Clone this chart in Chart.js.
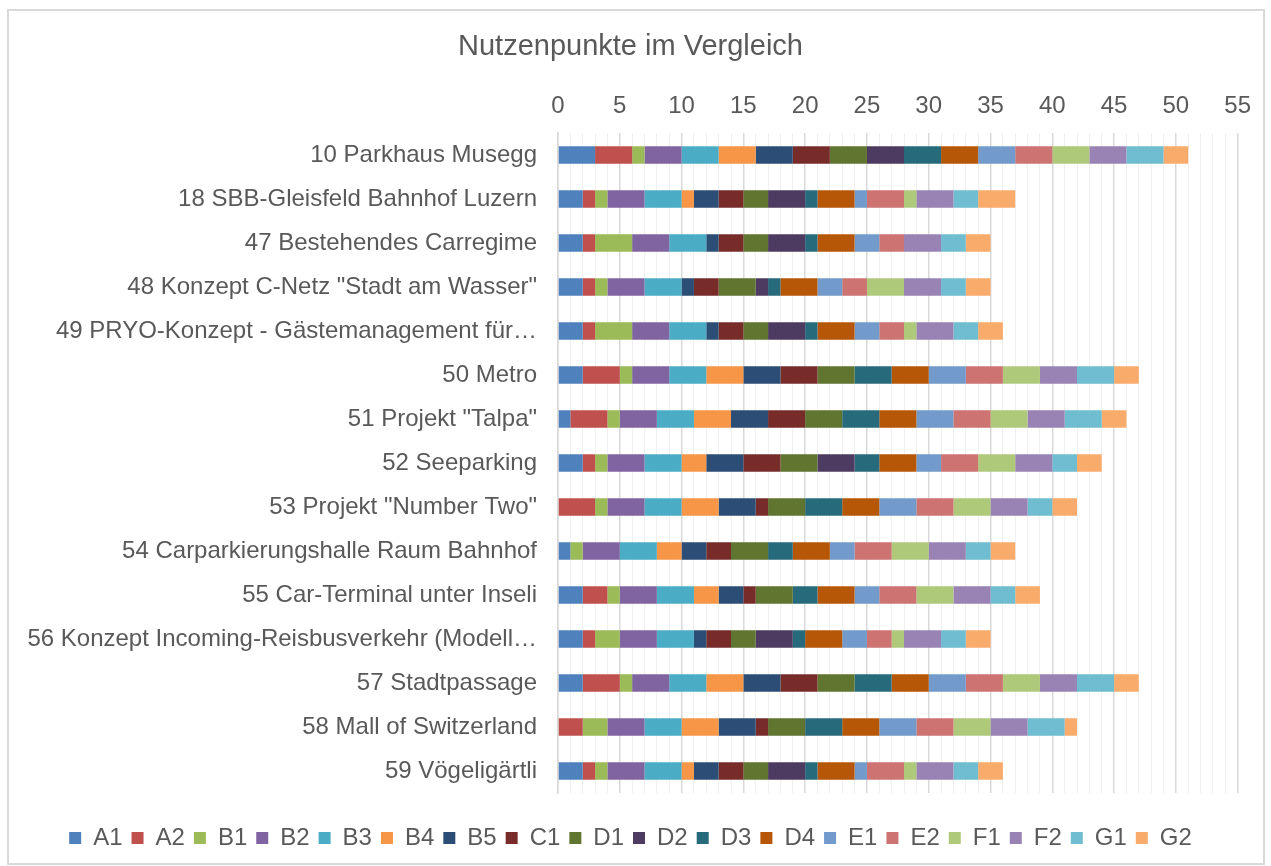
<!DOCTYPE html>
<html>
<head>
<meta charset="utf-8">
<script src="https://cdn.jsdelivr.net/npm/chart.js@4/dist/chart.umd.min.js"></script>
<style>
    body { margin: 0; background: #fff; }
    #wrap {
        position: absolute;
        left: 7px;
        top: 9px;
        width: 1258px;
        height: 856px;
        border: 2px solid #D9D9D9;
        box-sizing: border-box;
    }
</style>
</head>
<body>
<div id="wrap"><canvas id="nutzenChart"></canvas></div>
<script>
const projects = [
    '10 Parkhaus Musegg',
    '18 SBB-Gleisfeld Bahnhof Luzern',
    '47 Bestehendes Carregime',
    '48 Konzept C-Netz "Stadt am Wasser"',
    '49 PRYO-Konzept - Gästemanagement für…',
    '50 Metro',
    '51 Projekt "Talpa"',
    '52 Seeparking',
    '53 Projekt "Number Two"',
    '54 Carparkierungshalle Raum Bahnhof',
    '55 Car-Terminal unter Inseli',
    '56 Konzept Incoming-Reisbusverkehr (Modell…',
    '57 Stadtpassage',
    '58 Mall of Switzerland',
    '59 Vögeligärtli'
];

// one array per criterion, same order as projects
const A1 = [3, 2, 2, 2, 2, 2, 1, 2, 0, 1, 2, 2, 2, 0, 2];
const A2 = [3, 1, 1, 1, 1, 3, 3, 1, 3, 0, 2, 1, 3, 2, 1];
const B1 = [1, 1, 3, 1, 3, 1, 1, 1, 1, 1, 1, 2, 1, 2, 1];
const B2 = [3, 3, 3, 3, 3, 3, 3, 3, 3, 3, 3, 3, 3, 3, 3];
const B3 = [3, 3, 3, 3, 3, 3, 3, 3, 3, 3, 3, 3, 3, 3, 3];
const B4 = [3, 1, 0, 0, 0, 3, 3, 2, 3, 2, 2, 0, 3, 3, 1];
const B5 = [3, 2, 1, 1, 1, 3, 3, 3, 3, 2, 2, 1, 3, 3, 2];
const C1 = [3, 2, 2, 2, 2, 3, 3, 3, 1, 2, 1, 2, 3, 1, 2];
const D1 = [3, 2, 2, 3, 2, 3, 3, 3, 3, 3, 3, 2, 3, 3, 2];
const D2 = [3, 3, 3, 1, 3, 0, 0, 3, 0, 0, 0, 3, 0, 0, 3];
const D3 = [3, 1, 1, 1, 1, 3, 3, 2, 3, 2, 2, 1, 3, 3, 1];
const D4 = [3, 3, 3, 3, 3, 3, 3, 3, 3, 3, 3, 3, 3, 3, 3];
const E1 = [3, 1, 2, 2, 2, 3, 3, 2, 3, 2, 2, 2, 3, 3, 1];
const E2 = [3, 3, 2, 2, 2, 3, 3, 3, 3, 3, 3, 2, 3, 3, 3];
const F1 = [3, 1, 0, 3, 1, 3, 3, 3, 3, 3, 3, 1, 3, 3, 1];
const F2 = [3, 3, 3, 3, 3, 3, 3, 3, 3, 3, 3, 3, 3, 3, 3];
const G1 = [3, 2, 2, 2, 2, 3, 3, 2, 2, 2, 2, 2, 3, 3, 2];
const G2 = [2, 3, 2, 2, 2, 2, 2, 2, 2, 2, 2, 2, 2, 1, 2];

const criteria = ['A1', 'A2', 'B1', 'B2', 'B3', 'B4', 'B5', 'C1', 'D1', 'D2', 'D3', 'D4', 'E1', 'E2', 'F1', 'F2', 'G1', 'G2'];
const values = [A1, A2, B1, B2, B3, B4, B5, C1, D1, D2, D3, D4, E1, E2, F1, F2, G1, G2];
const colors = [
    '#4F81BD', '#C0504D', '#9BBB59', '#8064A2', '#4BACC6', '#F79646',
    '#2C4D75', '#772C2A', '#5F7530', '#4D3B62', '#276A7C', '#B65708',
    '#729ACA', '#CD7371', '#AFC97A', '#9983B5', '#6FBDD1', '#F9AB6B'
];

const xTicks = [0, 5, 10, 15, 20, 25, 30, 35, 40, 45, 50, 55];

const FONT = '"Liberation Sans", Arial, sans-serif';
const GREY = '#595959';

const ctx = document.getElementById('nutzenChart').getContext('2d');
const nutzenChart = new Chart(ctx, {
    type: 'bar',
    data: {
        labels: projects,
        datasets: criteria.map((c, i) => ({
            label: c,
            data: values[i],
            backgroundColor: colors[i],
            borderWidth: 0,
            barPercentage: 0.4,
            categoryPercentage: 1.0
        }))
    },
    options: {
        indexAxis: 'y',
        responsive: true,
        maintainAspectRatio: false,
        animation: false,
        layout: { padding: { top: 0, left: 14, right: 25, bottom: 3 } },
        plugins: {
            title: {
                display: true,
                text: 'Nutzenpunkte im Vergleich',
                color: GREY,
                font: { family: FONT, size: 29, weight: 'normal' },
                padding: { top: 19, bottom: 10 }
            },
            legend: {
                position: 'bottom',
                // empty title only adds space above the legend row
                title: { display: true, text: '', font: { size: 10 }, padding: { top: 12, bottom: 0 } },
                labels: {
                    color: GREY,
                    font: { family: FONT, size: 24 },
                    boxWidth: 12,
                    boxHeight: 12,
                    padding: 9
                }
            },
            tooltip: { enabled: false }
        },
        scales: {
            x: {
                position: 'top',
                stacked: true,
                min: 0,
                max: 55,
                afterFit: (scale) => { scale.height = 58.2; },
                ticks: {
                    stepSize: 1,
                    autoSkip: false,
                    maxRotation: 0,
                    padding: 12,
                    color: GREY,
                    font: { family: FONT, size: 24 },
                    callback: (v) => xTicks.includes(v) ? v : ''
                },
                grid: {
                    drawTicks: false,
                    color: (c) => xTicks.includes(c.tick.value) ? '#D9D9D9' : '#F0F0F0',
                    lineWidth: (c) => xTicks.includes(c.tick.value) ? 1.5 : 1
                },
                border: { display: false }
            },
            y: {
                stacked: true,
                afterFit: (scale) => { scale.width = 535; },
                ticks: {
                    padding: 21,
                    color: GREY,
                    font: { family: FONT, size: 24 }
                },
                grid: { display: false, drawTicks: false },
                border: { display: true, color: '#D9D9D9', width: 1.5 }
            }
        }
    }
});
</script>
</body>
</html>
